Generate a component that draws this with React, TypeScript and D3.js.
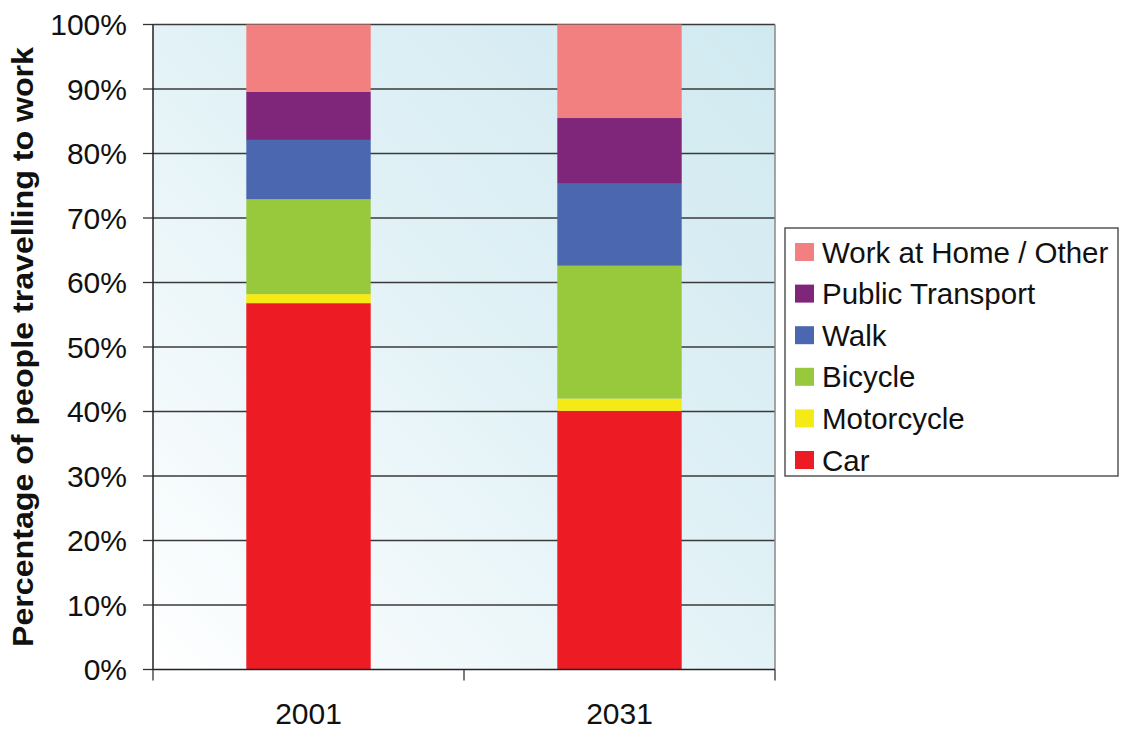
import React from "react";
import * as d3 from "d3";

const categories = ["2001", "2031"];
const seriesNames = ["Car", "Motorcycle", "Bicycle", "Walk", "Public Transport", "Work at Home / Other"];
const car = [56.8, 40.1];
const motorcycle = [1.4, 1.9];
const bicycle = [14.7, 20.6];
const walk = [9.2, 12.7];
const publicTransport = [7.5, 10.2];
const workAtHome = [10.4, 14.5];
const seriesColors = ["#ed1c24", "#f5e916", "#98c83c", "#4a67b0", "#7f267b", "#f28080"];
const yTicks = [0, 10, 20, 30, 40, 50, 60, 70, 80, 90, 100];
const yTitle = "Percentage of people travelling to work";

const W = 1121;
const H = 731;
const left = 153;
const right = 775;
const top = 24.5;
const bottom = 669.5;

export default function App() {
  const x = d3.scaleBand<string>().domain(categories).range([left, right]).paddingInner(0.6).paddingOuter(0.3);
  const y = d3.scaleLinear().domain([0, 100]).range([bottom, top]);
  const rows = categories.map((c, i) => ({
    cat: c,
    Car: car[i],
    Motorcycle: motorcycle[i],
    Bicycle: bicycle[i],
    Walk: walk[i],
    "Public Transport": publicTransport[i],
    "Work at Home / Other": workAtHome[i],
  }));
  const stacked = d3.stack<any>().keys(seriesNames)(rows);
  const font = "'Liberation Sans', Arial, sans-serif";
  const legendItems = [...seriesNames].reverse();
  const step = x.step();
  const tickXs = [left, left + step, right];

  return (
    <svg width={W} height={H} style={{ position: "absolute", left: 0, top: 0, background: "#fff" }} fontFamily={font}>
      <defs>
        <linearGradient id="bg" x1="0" y1="1" x2="1" y2="0">
          <stop offset="0" stopColor="#ffffff" />
          <stop offset="0.55" stopColor="#e0f1f6" />
          <stop offset="1" stopColor="#d0e9f0" />
        </linearGradient>
      </defs>
      <rect x={left} y={top} width={right - left} height={bottom - top} fill="url(#bg)" />
      {yTicks.map((t) => (
        <g key={t}>
          {t > 0 && <line x1={left} x2={right} y1={y(t)} y2={y(t)} stroke="#3a3a3a" strokeWidth={1.3} />}
          <line x1={left - 10} x2={left} y1={y(t)} y2={y(t)} stroke="#333" strokeWidth={1.3} />
          <text x={127} y={y(t)} dy="0.36em" textAnchor="end" fontSize={30} fill="#111">
            {t}%
          </text>
        </g>
      ))}
      <line x1={right} x2={right} y1={top} y2={bottom} stroke="#888" strokeWidth={1.5} />
      {stacked.map((s, si) => (
        <g key={s.key} fill={seriesColors[si]}>
          {s.map((d, i) => (
            <rect
              key={i}
              x={x(categories[i])}
              width={x.bandwidth()}
              y={y(d[1])}
              height={y(d[0]) - y(d[1])}
            />
          ))}
        </g>
      ))}
      <line x1={left} x2={left} y1={top} y2={bottom} stroke="#222" strokeWidth={1.5} />
      <line x1={left} x2={right} y1={bottom} y2={bottom} stroke="#222" strokeWidth={1.5} />
      {tickXs.map((tx, i) => (
        <line key={i} x1={tx} x2={tx} y1={bottom} y2={bottom + 11} stroke="#333" strokeWidth={1.3} />
      ))}
      {categories.map((c) => (
        <text key={c} x={(x(c) ?? 0) + x.bandwidth() / 2} y={724} textAnchor="middle" fontSize={30} fill="#111">
          {c}
        </text>
      ))}
      <text
        transform={`translate(33,${(top + bottom) / 2}) rotate(-90)`}
        textAnchor="middle"
        fontSize={30}
        fontWeight="bold"
        fill="#111"
        textLength={600}
        lengthAdjust="spacingAndGlyphs"
      >
        {yTitle}
      </text>
      <rect x={785} y={228} width={333} height={248} fill="#fff" stroke="#555" strokeWidth={1.5} />
      {legendItems.map((name, i) => {
        const cy = 252 + i * 41.6;
        return (
          <g key={name}>
            <rect x={795} y={cy - 9} width={19} height={18} fill={seriesColors[seriesNames.indexOf(name)]} />
            <text x={822} y={cy} dy="0.36em" fontSize={29.5} fill="#111">
              {name}
            </text>
          </g>
        );
      })}
    </svg>
  );
}
